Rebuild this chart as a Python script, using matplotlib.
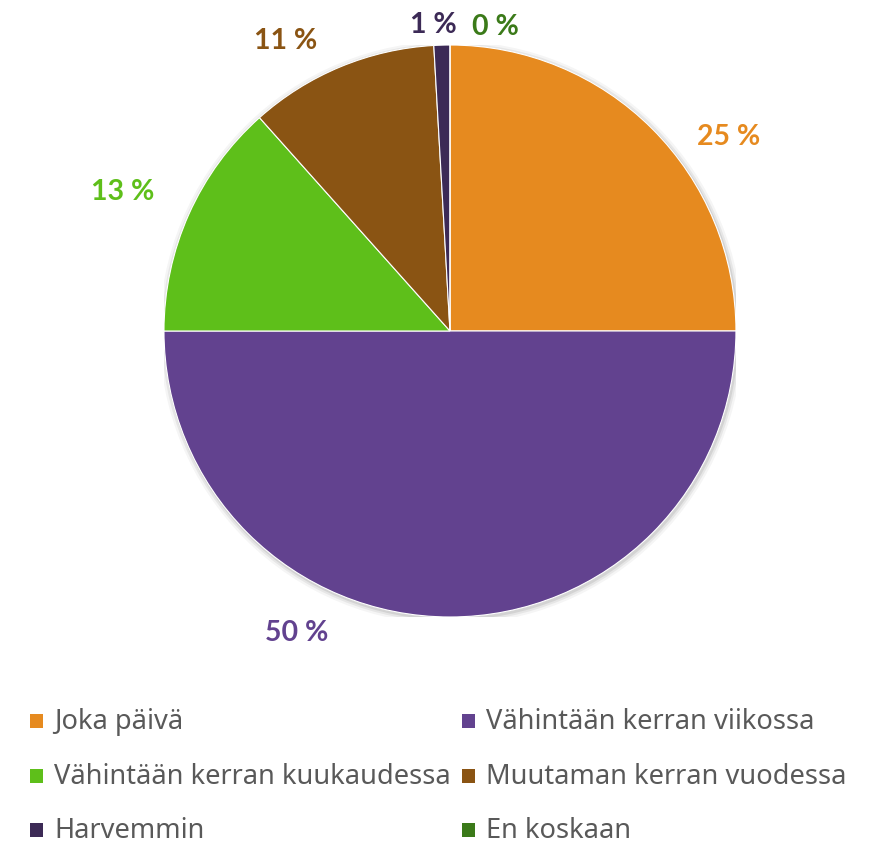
import matplotlib
matplotlib.use("Agg")
import matplotlib.pyplot as plt
import numpy as np
from matplotlib.patches import Rectangle, Circle

# data
categories = ["Joka päivä", "Vähintään kerran viikossa", "Vähintään kerran kuukaudessa",
              "Muutaman kerran vuodessa", "Harvemmin", "En koskaan"]
shares = [25.0, 50.0, 13.4, 10.7, 0.9, 0.0]
pct_labels = ["25 %", "50 %", "13 %", "11 %", "1 %", "0 %"]
colors = ["#E68A1F", "#62428F", "#5EBF1A", "#8A5413", "#3C2A56", "#3B7A19"]

# label placement tweaks (angle offset in degrees, radius)
label_shift = [(-10, 1.19), (-27, 1.18), (1, 1.245), (7, 1.17), (1.5, 1.075), (-8.5, 1.078)]

plt.rcParams['font.family'] = ['Lato', 'DejaVu Sans']

fig = plt.figure(figsize=(8.69, 8.45), dpi=100)
ax = fig.add_axes([0.1887, 0.2686, 0.6582, 0.677])

# soft shadow under the pie
for k, a in zip([1.02, 1.012, 1.005], [0.04, 0.06, 0.08]):
    ax.add_patch(Circle((0.004, -0.006), k, color="#000000", alpha=a, lw=0, zorder=0))

wedges, _ = ax.pie(shares, colors=colors, startangle=90, counterclock=False,
                   wedgeprops=dict(linewidth=0.8, edgecolor="white"), normalize=True)
for w in wedges:
    w.set_zorder(2)

for w, txt, col, (da, r) in zip(wedges, pct_labels, colors, label_shift):
    mid = (w.theta1 + w.theta2) / 2 + da
    x = r * np.cos(np.radians(mid))
    y = r * np.sin(np.radians(mid))
    ax.text(x, y, txt, color=col, fontsize=20.5, fontweight="bold",
            ha="center", va="center", zorder=3)

ax.set_xlim(-1, 1)
ax.set_ylim(-1, 1)
ax.set_aspect("equal")
ax.axis("off")

# legend, two columns
W, H = 869, 845
col_x = [30, 462]
row_y = [722, 777, 831]
for i, (name, col) in enumerate(zip(categories, colors)):
    cx = col_x[i % 2]
    cy = row_y[i // 2]
    fig.patches.append(Rectangle((cx / W, (H - cy - 7) / H), 13 / W, 14 / H,
                                 transform=fig.transFigure, facecolor=col, edgecolor="none"))
    fig.text((cx + 24) / W, (H - cy) / H, name, fontsize=19.6, color="#595959",
             ha="left", va="center", family=['Noto Sans', 'DejaVu Sans'])

fig.savefig("out.png", dpi=100, facecolor="white")
